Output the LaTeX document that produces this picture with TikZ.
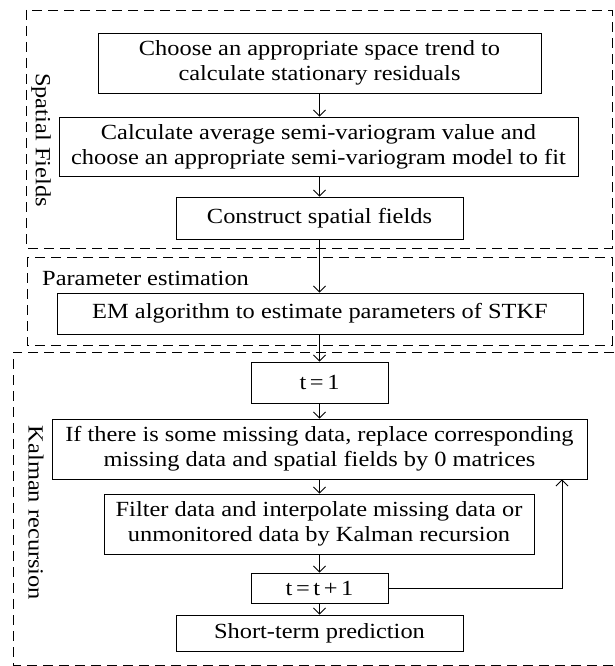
\documentclass[tikz,border=0pt]{standalone}
\usepackage{fontspec}
\setmainfont{Liberation Serif}[FakeStretch=1.13]
\usetikzlibrary{arrows.meta}
\begin{document}
\begin{tikzpicture}[x=1pt,y=-1pt,
  font=\fontsize{21.6}{25}\selectfont,
  stepbox/.style={draw, line width=0.9pt, inner sep=0pt, align=center},
  groupbox/.style={draw, line width=0.9pt, dash pattern=on 10pt off 6pt},
  flow/.style={draw, line width=0.8pt, -{Straight Barb[length=6pt,width=12pt,line width=0.8pt]}},
  grouplabel/.style={inner sep=0pt, rotate=-90}
]
\useasboundingbox (0,0) rectangle (614,666);

% group frames
\draw[groupbox] (26,10) rectangle (612,248);
\draw[groupbox] (27,257) rectangle (612,345);
\draw[groupbox] (630,352) -- (13,352) -- (13,665) -- (630,665);

% group labels
\node[grouplabel] (lspatial) at (41,140) {Spatial Fields};
\node[inner sep=0pt, anchor=base west] (lparam) at (42,285) {Parameter estimation};
\node[grouplabel] (lkalman) at (36,513) {Kalman recursion};

% steps
\node[stepbox, minimum width=443pt, minimum height=60pt] (choose) at (319.5,63)
  {Choose an appropriate space trend to\\calculate stationary residuals};
\node[stepbox, minimum width=519pt, minimum height=59pt] (calc) at (318.5,146.5)
  {Calculate average semi-variogram value and\\choose an appropriate semi-variogram model to fit};
\node[stepbox, minimum width=287pt, minimum height=42pt] (construct) at (319.5,218)
  {Construct spatial fields};
\node[stepbox, minimum width=526pt, minimum height=41pt] (em) at (320,313.5)
  {EM algorithm to estimate parameters of STKF};
\node[stepbox, minimum width=137pt, minimum height=41pt] (t1) at (319.5,382.5)
  {t\,=\,1};
\node[stepbox, minimum width=535pt, minimum height=60pt] (if) at (319.5,449)
  {If there is some missing data, replace corresponding\\missing data and spatial fields by 0 matrices};
\node[stepbox, minimum width=430pt, minimum height=60pt] (filter) at (319,524)
  {Filter data and interpolate missing data or\\unmonitored data by Kalman recursion};
\node[stepbox, minimum width=137pt, minimum height=30pt] (tt1) at (319.5,588)
  {t\,=\,t\,+\,1};
\node[stepbox, minimum width=287pt, minimum height=36pt] (short) at (319.5,633)
  {Short-term prediction};

% connectors
\draw[flow] (choose.south) -- (choose.south |- calc.north);
\draw[flow] (calc.south -| choose.south) -- (choose.south |- construct.north);
\draw[flow] (construct.south) -- (construct.south |- em.north);
\draw[flow] (em.south -| construct.south) -- (t1.north);
\draw[flow] (t1.south) -- (t1.south |- if.north);
\draw[flow] (if.south -| t1.south) -- (t1.south |- filter.north);
\draw[flow] (filter.south -| t1.south) -- (tt1.north);
\draw[flow] (tt1.south) -- (tt1.south |- short.north);
\coordinate (fb) at (562,588);
\draw[flow] (tt1.east) -- (fb) -- (fb |- if.south);
\end{tikzpicture}
\end{document}
